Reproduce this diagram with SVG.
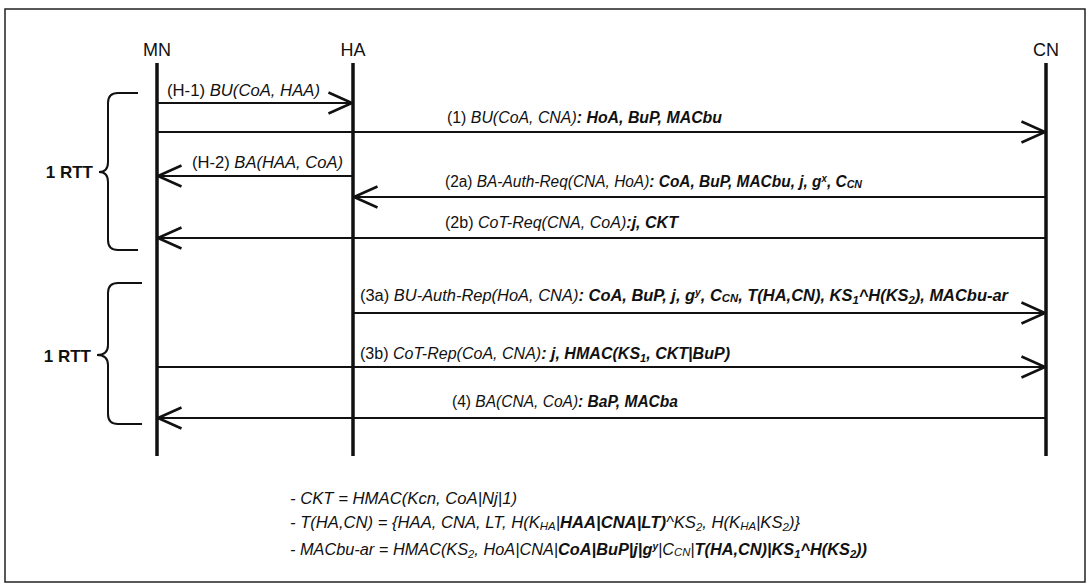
<svg xmlns="http://www.w3.org/2000/svg" width="1089" height="587" viewBox="0 0 1089 587">
<style>
text{font-family:"Liberation Sans",Arial,sans-serif;fill:#111}
.hd{font-size:18px;text-anchor:middle}
.lbl{font-size:16px}
.i{font-style:italic}
.b{font-style:italic;font-weight:bold}
.sub{font-size:11px}
.sup{font-size:10px}
.rtt{font-size:17px;font-weight:bold;text-anchor:end}
.life{stroke:#111;stroke-width:3.5;fill:none}
.msg{stroke:#111;stroke-width:2.2;fill:none;marker-end:url(#open)}
.brace{stroke:#111;stroke-width:2;fill:none}
.fn{font-size:16px;font-style:italic}
</style>
<defs>
<marker id="open" viewBox="0 0 26 24" refX="24.5" refY="12" markerWidth="26" markerHeight="24" orient="auto" markerUnits="userSpaceOnUse">
<path d="M1,1.5 L24.5,12 L1,22.5" fill="none" stroke="#111" stroke-width="2.5"/>
</marker>
</defs>
<rect x="5" y="9" width="1080" height="573" fill="#fff" stroke="#222" stroke-width="1.5"/>
<g id="MN"><text class="hd" x="157" y="56">MN</text><line class="life" x1="157" y1="63" x2="157" y2="456"/></g>
<g id="HA"><text class="hd" x="353" y="56">HA</text><line class="life" x1="353" y1="63" x2="353" y2="456"/></g>
<g id="CN"><text class="hd" x="1046" y="56">CN</text><line class="life" x1="1046" y1="63" x2="1046" y2="456"/></g>
<g id="braces">
<path class="brace" d="M138,93 H118 Q108,93 108,103 V162 Q108,172 99,172 Q108,172 108,182 V240 Q108,250 118,250 H138"/>
<text class="rtt" x="93" y="178">1 RTT</text>
<path class="brace" d="M142,283 H118 Q108,283 108,293 V345 Q108,355 97,355 Q108,355 108,365 V414 Q108,424 118,424 H142"/>
<text class="rtt" x="91" y="362">1 RTT</text>
</g>
<g id="connectors">
<line class="msg" x1="158" y1="103" x2="352" y2="103"/>
<text class="lbl" x="167" y="96" textLength="153" lengthAdjust="spacingAndGlyphs">(H-1) <tspan class="i">BU(CoA, HAA)</tspan></text>
<line class="msg" x1="158" y1="132" x2="1045" y2="132"/>
<text class="lbl" x="447" y="123" textLength="275" lengthAdjust="spacingAndGlyphs">(1) <tspan class="i">BU(CoA, CNA)</tspan><tspan class="b">: HoA,  BuP, MACbu</tspan></text>
<line class="msg" x1="352" y1="176" x2="158" y2="176"/>
<text class="lbl" x="192" y="168" textLength="151" lengthAdjust="spacingAndGlyphs">(H-2) <tspan class="i">BA(HAA, CoA)</tspan></text>
<line class="msg" x1="1045" y1="197" x2="354" y2="197"/>
<text class="lbl" x="445" y="187" textLength="417" lengthAdjust="spacingAndGlyphs">(2a) <tspan class="i">BA-Auth-Req(CNA, HoA)</tspan><tspan class="b">: CoA, BuP, MACbu, j, g</tspan><tspan class="b sup" dy="-5">x</tspan><tspan class="b" dy="5">, C</tspan><tspan class="b sub" dy="1">CN</tspan></text>
<line class="msg" x1="1045" y1="238" x2="158" y2="238"/>
<text class="lbl" x="445" y="228" textLength="233" lengthAdjust="spacingAndGlyphs">(2b) <tspan class="i">CoT-Req(CNA, CoA)</tspan><tspan class="b">:j, CKT</tspan></text>
<line class="msg" x1="354" y1="313" x2="1045" y2="313"/>
<text class="lbl" x="360" y="301" textLength="648" lengthAdjust="spacingAndGlyphs">(3a) <tspan class="i">BU-Auth-Rep(HoA, CNA)</tspan><tspan class="b">: CoA, BuP,  j, g</tspan><tspan class="b sup" dy="-5">y</tspan><tspan class="b" dy="5">, C</tspan><tspan class="b sub" dy="1">CN</tspan><tspan class="b" dy="-1">, T(HA,CN), KS</tspan><tspan class="b sub" dy="3">1</tspan><tspan class="b" dy="-3">^H(KS</tspan><tspan class="b sub" dy="3">2</tspan><tspan class="b" dy="-3">), MACbu-ar</tspan></text>
<line class="msg" x1="158" y1="367" x2="1045" y2="367"/>
<text class="lbl" x="360" y="359" textLength="370" lengthAdjust="spacingAndGlyphs">(3b) <tspan class="i">CoT-Rep(CoA, CNA)</tspan><tspan class="b">: j, HMAC(KS</tspan><tspan class="b sub" dy="3">1</tspan><tspan class="b" dy="-3">, CKT|BuP)</tspan></text>
<line class="msg" x1="1045" y1="418" x2="158" y2="418"/>
<text class="lbl" x="452" y="407" textLength="226" lengthAdjust="spacingAndGlyphs">(4) <tspan class="i">BA(CNA, CoA)</tspan><tspan class="b">: BaP, MACba</tspan></text>
</g>
<g id="notes">
<text class="fn" x="290" y="504" textLength="227" lengthAdjust="spacingAndGlyphs">- CKT = HMAC(Kcn, CoA|Nj|1)</text>
<text class="fn" x="290" y="528" textLength="510" lengthAdjust="spacingAndGlyphs">- T(HA,CN) = {HAA, CNA, LT, H(K<tspan class="sub" dy="2">HA</tspan><tspan dy="-2">|</tspan><tspan class="b">HAA|CNA|LT)</tspan>^KS<tspan class="sub" dy="3">2</tspan><tspan dy="-3">, H(K</tspan><tspan class="sub" dy="2">HA</tspan><tspan dy="-2">|KS</tspan><tspan class="sub" dy="3">2</tspan><tspan dy="-3">)}</tspan></text>
<text class="fn" x="290" y="555" textLength="577" lengthAdjust="spacingAndGlyphs">- MACbu-ar = HMAC(KS<tspan class="sub" dy="3">2</tspan><tspan dy="-3">, HoA|CNA|</tspan><tspan class="b">CoA|BuP|j|g</tspan><tspan class="b sup" dy="-5">y</tspan><tspan dy="5">|C</tspan><tspan class="sub" dy="1">CN</tspan><tspan dy="-1">|</tspan><tspan class="b">T(HA,CN)|KS</tspan><tspan class="b sub" dy="3">1</tspan><tspan class="b" dy="-3">^H(KS</tspan><tspan class="b sub" dy="3">2</tspan><tspan class="b" dy="-3">))</tspan></text>
</g>
</svg>
